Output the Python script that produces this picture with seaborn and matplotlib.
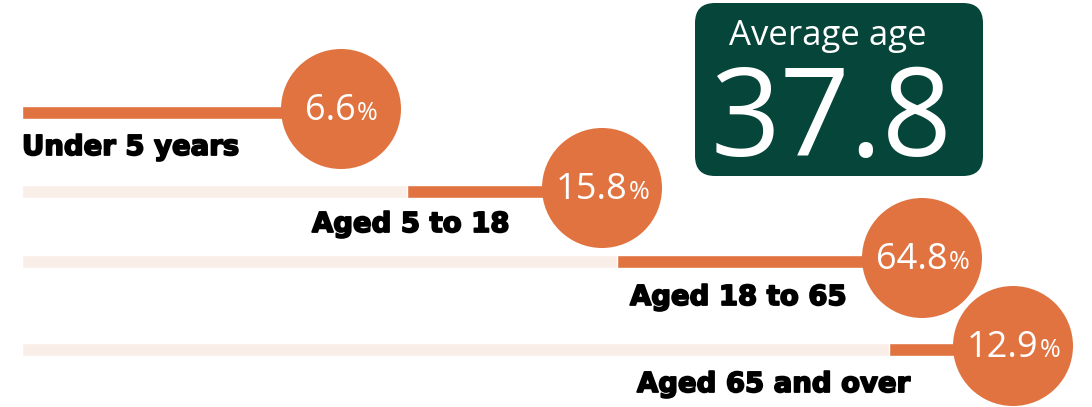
import matplotlib
matplotlib.use("Agg")
import matplotlib.pyplot as plt
from matplotlib.patches import Circle, FancyBboxPatch
import matplotlib.patheffects as pe
import seaborn as sns

# ---- data ----
categories = ["Under 5 years", "Aged 5 to 18", "Aged 18 to 65", "Aged 65 and over"]
shares = [6.6, 15.8, 64.8, 12.9]
average_label = "Average age"
average_age = 37.8

# ---- layout (pixel units of the 1092x407 canvas) ----
W, H = 1092, 407
track_left = 22
seg_start = [22, 407, 617, 889]
circle_x = [341, 602, 922, 1013]
row_y = [112, 191, 261, 349]
label_x = [22, 312, 630, 637]
label_base = [155, 232, 305, 392]
bar_h = 13
radius = 60

ORANGE = "#E07340"
TRACK = "#F9EEE8"
GREEN = "#05453A"

sns.set_theme(style="white")
plt.rcParams["font.family"] = ["Open Sans", "DejaVu Sans"]

fig = plt.figure(figsize=(W / 100, H / 100), dpi=100)
ax = fig.add_axes([0, 0, 1, 1])
ax.set_xlim(0, W)
ax.set_ylim(H, 0)
ax.axis("off")

for i, (cat, val) in enumerate(zip(categories, shares)):
    y = row_y[i]
    ax.barh(y, circle_x[i] - track_left, left=track_left, height=bar_h, color=TRACK, zorder=1)
    ax.barh(y, circle_x[i] - seg_start[i], left=seg_start[i], height=bar_h, color=ORANGE, zorder=2)
    ax.add_patch(Circle((circle_x[i], y - 3), radius, color=ORANGE, zorder=3, lw=0))
    ax.text(label_x[i], label_base[i], cat, ha="left", va="baseline",
            fontsize=19.8, fontweight="bold", family=["DejaVu Sans"], color="black", zorder=4,
            path_effects=[pe.withStroke(linewidth=1.3, foreground="black")])

fig.canvas.draw()
r = fig.canvas.get_renderer()
for i, val in enumerate(shares):
    y = row_y[i] - 3
    t1 = ax.text(0, y + 11, f"{val:.1f}", ha="left", va="baseline", fontsize=26, color="white", zorder=5)
    t2 = ax.text(0, y + 11, "%", ha="left", va="baseline", fontsize=18, color="white", zorder=5)
    w1 = t1.get_window_extent(r).width
    w2 = t2.get_window_extent(r).width
    x0 = circle_x[i] - (w1 + w2) / 2
    t1.set_x(x0)
    t2.set_x(x0 + w1 + 1)

# average age box
box = FancyBboxPatch((695 + 20, 3 + 20), 288 - 40, 173 - 40,
                     boxstyle="round,pad=20", fc=GREEN, ec="none", zorder=3)
ax.add_patch(box)
ax.text(828, 45, average_label, ha="center", va="baseline", fontsize=25, color="white", zorder=5)
ax.text(831, 156, f"{average_age}", ha="center", va="baseline", fontsize=88, color="white", zorder=5)

fig.savefig("out.png", dpi=100)
